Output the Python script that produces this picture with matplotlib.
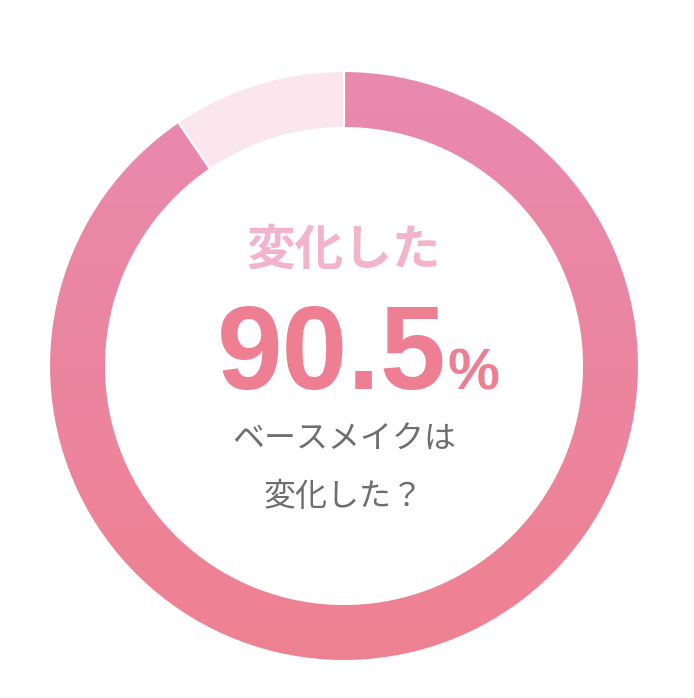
import numpy as np
import matplotlib.pyplot as plt
from matplotlib.colors import LinearSegmentedColormap

# data
labels = ['変化した', '変化していない']
values = [90.5, 9.5]
headline = '変化した'
pct_text = '90.5'
question = ['ベースメイクは', '変化した？']

# look
W, H = 694, 698
cx, cy = 344, H - 366
r_out, ring = 295, 57
grad_top, grad_bottom = '#E88AAF', '#EF8191'
light_col = '#FCE6EE'

fig = plt.figure(figsize=(W/100, H/100), dpi=100)
ax = fig.add_axes([0, 0, 1, 1])
ax.set_xlim(0, W)
ax.set_ylim(0, H)
ax.set_aspect('equal')
ax.axis('off')

wedges, _ = ax.pie(values, startangle=90, counterclock=False,
                   radius=r_out, center=(cx, cy),
                   colors=['none', light_col],
                   wedgeprops=dict(width=ring, edgecolor='white', linewidth=1.5))
ax.set_xlim(0, W)
ax.set_ylim(0, H)

# vertical gradient on the main wedge
cmap = LinearSegmentedColormap.from_list('g', [grad_bottom, grad_top])
grad = np.linspace(0, 1, 256).reshape(-1, 1)
im = ax.imshow(grad, cmap=cmap, origin='lower', aspect='auto',
               extent=[cx - r_out, cx + r_out, cy - r_out, cy + r_out], zorder=0)
im.set_clip_path(wedges[0])
wedges[0].set_zorder(1)

ax.text(cx, H - 250, headline, ha='center', va='center', fontsize=35,
        fontweight='bold', color='#F3B4CB', family=['Noto Sans CJK JP'])

ax.text(447, H - 389, pct_text, ha='right', va='baseline', fontsize=85,
        fontweight='bold', color='#EE7F93', family=['Liberation Sans'])
ax.text(448, H - 389, '%', ha='left', va='baseline', fontsize=42,
        fontweight='bold', color='#EE7F93', family=['Liberation Sans'])

ax.text(cx, H - 440, question[0], ha='center', va='center', fontsize=23,
        color='#6E6E6E', family=['Noto Sans CJK JP'])
ax.text(cx, H - 497, question[1], ha='center', va='center', fontsize=23,
        color='#6E6E6E', family=['Noto Sans CJK JP'])

fig.savefig('out.png', dpi=100, facecolor='white')
